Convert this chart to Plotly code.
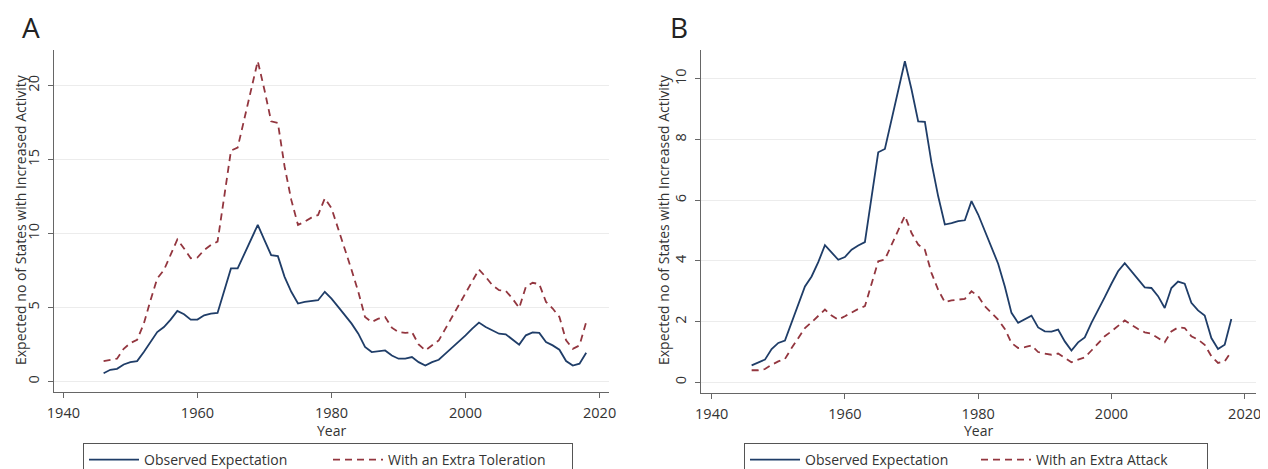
import plotly.graph_objects as go

years = list(range(1946, 2019))

obs_A = [0.56, 0.79, 0.86, 1.15, 1.31, 1.38, 1.99, 2.67, 3.34, 3.68,
         4.18, 4.77, 4.54, 4.18, 4.18, 4.47, 4.59, 4.63, 6.17, 7.64,
         7.64, 8.62, 9.60, 10.58, 9.56, 8.54, 8.47, 7.07, 6.06, 5.27,
         5.38, 5.45, 5.49, 6.06, 5.60, 5.04, 4.47, 3.91, 3.23, 2.33,
         1.99, 2.03, 2.10, 1.76, 1.54, 1.54, 1.65, 1.31, 1.08, 1.31,
         1.47, 1.88, 2.28, 2.67, 3.12, 3.57, 3.98, 3.68, 3.46, 3.23,
         3.19, 2.85, 2.49, 3.12, 3.32, 3.28, 2.67, 2.44, 2.15, 1.38,
         1.08, 1.20, 1.94]

tol_A = [1.38, 1.47, 1.54, 2.21, 2.60, 2.82, 3.91, 5.49, 6.96, 7.53,
         8.54, 9.60, 8.99, 8.32, 8.38, 8.88, 9.22, 9.45, 12.5, 15.6,
         15.8, 17.7, 19.7, 21.65, 19.7, 17.58, 17.47, 14.53, 12.27, 10.58,
         10.8, 11.07, 11.25, 12.38, 11.71, 10.35, 8.99, 7.53, 6.06, 4.36,
         4.02, 4.25, 4.36, 3.64, 3.34, 3.28, 3.34, 2.51, 2.10, 2.44,
         2.78, 3.57, 4.36, 5.15, 5.94, 6.73, 7.57, 7.07, 6.51, 6.17,
         6.12, 5.60, 4.97, 6.40, 6.67, 6.58, 5.38, 4.93, 4.36, 2.78,
         2.21, 2.44, 4.02]

obs_B = [0.56, 0.66, 0.75, 1.10, 1.30, 1.38, 1.96, 2.56, 3.16, 3.49,
         3.96, 4.52, 4.29, 4.04, 4.13, 4.37, 4.51, 4.62, 6.10, 7.58,
         7.69, 8.63, 9.56, 10.58, 9.65, 8.60, 8.58, 7.23, 6.13, 5.20,
         5.25, 5.31, 5.34, 5.97, 5.53, 4.98, 4.43, 3.91, 3.16, 2.29,
         1.96, 2.07, 2.20, 1.81, 1.68, 1.67, 1.74, 1.35, 1.05, 1.32,
         1.48, 1.96, 2.37, 2.81, 3.25, 3.66, 3.93, 3.66, 3.38, 3.13,
         3.11, 2.84, 2.45, 3.11, 3.32, 3.25, 2.62, 2.37, 2.20, 1.46,
         1.10, 1.24, 2.09]

att_B = [0.40, 0.40, 0.44, 0.58, 0.69, 0.77, 1.13, 1.46, 1.79, 1.98,
         2.18, 2.40, 2.20, 2.07, 2.18, 2.31, 2.42, 2.51, 3.27, 3.99,
         4.05, 4.54, 5.03, 5.49, 4.92, 4.54, 4.37, 3.60, 3.05, 2.64,
         2.70, 2.73, 2.75, 3.00, 2.84, 2.51, 2.29, 2.07, 1.76, 1.30,
         1.13, 1.16, 1.22, 1.00, 0.95, 0.91, 0.95, 0.80, 0.66, 0.75,
         0.82, 1.05, 1.30, 1.52, 1.68, 1.87, 2.04, 1.90, 1.76, 1.65,
         1.60, 1.46, 1.32, 1.68, 1.81, 1.79, 1.52, 1.41, 1.24, 0.86,
         0.64, 0.69, 1.02]

x_ticks = [1940, 1960, 1980, 2000, 2020]
y_ticks_A = [0, 5, 10, 15, 20]
y_ticks_B = [0, 2, 4, 6, 8, 10]

labels_A = ["Observed Expectation", "With an Extra Toleration"]
labels_B = ["Observed Expectation", "With an Extra Attack"]

BLUE = "#1f3d68"
RED = "#93363f"
FONT = "Open Sans"
W, H = 1268, 469
OFF = 8  # page body margin offset of the rendered figure

fig = go.Figure()
fig.add_trace(go.Scatter(x=years, y=obs_A, mode="lines", name=labels_A[0],
                         line=dict(color=BLUE, width=1.8), xaxis="x", yaxis="y", legend="legend"))
fig.add_trace(go.Scatter(x=years, y=tol_A, mode="lines", name=labels_A[1],
                         line=dict(color=RED, width=1.8, dash="7px,5px"), xaxis="x", yaxis="y", legend="legend"))
fig.add_trace(go.Scatter(x=years, y=obs_B, mode="lines", name=labels_B[0],
                         line=dict(color=BLUE, width=1.8), xaxis="x2", yaxis="y2", legend="legend2"))
fig.add_trace(go.Scatter(x=years, y=att_B, mode="lines", name=labels_B[1],
                         line=dict(color=RED, width=1.8, dash="7px,5px"), xaxis="x2", yaxis="y2", legend="legend2"))

def px_x(p):
    return (p - OFF) / W

def px_y(p):
    return 1 - (p - OFF) / H

axcommon = dict(showline=True, linecolor="#666666", linewidth=1.3, ticks="outside",
                ticklen=5, tickcolor="#666666", tickwidth=1.2, automargin=False,
                tickfont=dict(family=FONT, size=14.5, color="#333333"), zeroline=False)

legcommon = dict(orientation="h", xanchor="center", y=px_y(443), yanchor="top",
                 bordercolor="#555555", borderwidth=1, bgcolor="white",
                 font=dict(family=FONT, size=14, color="#333333"), itemwidth=50,
                 traceorder="normal")

fig.update_layout(
    width=W, height=H, margin=dict(l=0, r=0, t=0, b=0, autoexpand=False),
    paper_bgcolor="white", plot_bgcolor="white",
    font=dict(family=FONT, color="#333333"),
    xaxis=dict(domain=[px_x(54), px_x(609)], range=[1938.6, 2021.4], tickvals=x_ticks,
               showgrid=False, anchor="y", ticklabelstandoff=2, **axcommon),
    yaxis=dict(domain=[px_y(392), px_y(50)], range=[-0.71, 22.4], tickvals=y_ticks_A,
               showgrid=True, gridcolor="#ececec", gridwidth=1, tickangle=-90, anchor="x",
               ticklabelstandoff=3, **axcommon),
    xaxis2=dict(domain=[px_x(701), px_x(1256)], range=[1938.4, 2021.7], tickvals=x_ticks,
                showgrid=False, anchor="y2", ticklabelstandoff=2, **axcommon),
    yaxis2=dict(domain=[px_y(393), px_y(50)], range=[-0.35, 10.95], tickvals=y_ticks_B,
                showgrid=True, gridcolor="#ececec", gridwidth=1, tickangle=-90, anchor="x2",
                ticklabelstandoff=3, **axcommon),
    legend=dict(x=px_x(328), entrywidth=179, **legcommon),
    legend2=dict(x=px_x(976), entrywidth=166, **legcommon),
    showlegend=True,
)

ann = []
for letter, xc in (("A", 31), ("B", 679)):
    ann.append(dict(text=letter, x=px_x(xc), y=px_y(27), xref="paper", yref="paper",
                    showarrow=False, font=dict(family=FONT, size=28, color="#222222"),
                    xanchor="center", yanchor="middle"))
for xc in (20, 663):
    ann.append(dict(text="Expected no of States with Increased Activity", x=px_x(xc), y=px_y(220),
                    xref="paper", yref="paper", showarrow=False, textangle=-90,
                    font=dict(family=FONT, size=14, color="#333333"),
                    xanchor="center", yanchor="middle"))
for xc in (331, 978):
    ann.append(dict(text="Year", x=px_x(xc), y=px_y(430), xref="paper", yref="paper",
                    showarrow=False, font=dict(family=FONT, size=14, color="#333333"),
                    xanchor="center", yanchor="middle"))
fig.update_layout(annotations=ann)

fig.write_html("out.html")
